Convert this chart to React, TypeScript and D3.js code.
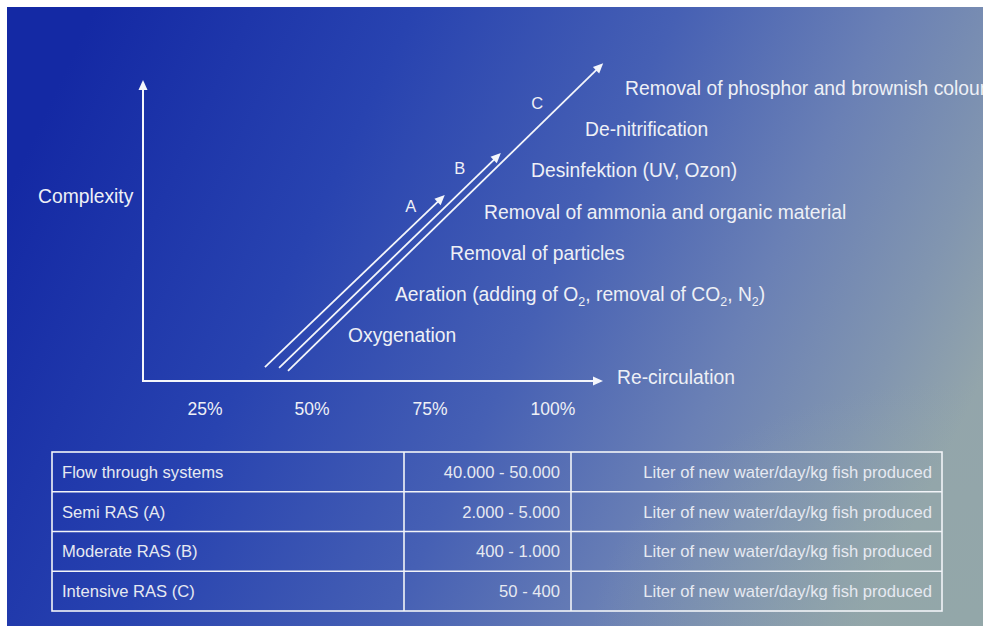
import React from "react";
import * as d3 from "d3";

// ---- data ----
const tickValues = [25, 50, 75, 100];
const tickLabels = ["25%", "50%", "75%", "100%"];
const axisXLabel = "Re-circulation";
const axisYLabel = "Complexity";

// treatment steps, ordered by complexity level (0 = lowest)
const steps: { t: string; sub?: boolean }[][] = [
  [{ t: "Oxygenation" }],
  [
    { t: "Aeration (adding of O" },
    { t: "2", sub: true },
    { t: ", removal of CO" },
    { t: "2", sub: true },
    { t: ", N" },
    { t: "2", sub: true },
    { t: ")" },
  ],
  [{ t: "Removal of particles" }],
  [{ t: "Removal of ammonia and organic material" }],
  [{ t: "Desinfektion (UV, Ozon)" }],
  [{ t: "De-nitrification" }],
  [{ t: "Removal of phosphor and brownish colour" }],
];
const stepLevels = [0, 1, 2, 3, 4, 5, 6];

// system arrows: start / end as [re-circulation %, complexity level]
const arrowNames = ["A", "B", "C"];
const arrowStart = [
  [39.0, -0.78],
  [42.3, -0.8],
  [44.4, -0.87],
];
const arrowEnd = [
  [78.0, 3.4],
  [89.4, 4.42],
  [110.2, 6.6],
];

// table
const systems = ["Flow through systems", "Semi RAS (A)", "Moderate RAS (B)", "Intensive RAS (C)"];
const ranges = ["40.000 - 50.000", "2.000 - 5.000", "400 - 1.000", "50 - 400"];
const units = [
  "Liter of new water/day/kg fish produced",
  "Liter of new water/day/kg fish produced",
  "Liter of new water/day/kg fish produced",
  "Liter of new water/day/kg fish produced",
];

// ---- layout ----
const W = 983;
const H = 626;
const origin = { x: 143, y: 381 };
const yTop = 80;
const xEnd = 603;
const tickPx = [205, 312, 430, 553];
const stepLabelX = [348, 395, 450, 484, 531, 585, 625];
const letterOffset = [
  [-34, 17],
  [-41, 21],
  [-66, 46],
];
const table = { x0: 52, x1: 942, y0: 452, rowH: 39.75, c1: 404, c2: 571 };
const textColor = "#eef0f6";
const font = "'Liberation Sans', Arial, sans-serif";

export default function App() {
  const x = d3.scaleLinear().domain(tickValues).range(tickPx);
  const y = d3.scaleLinear().domain([0, 6]).range([335, 88]);

  const arrowHead = (x1: number, y1: number, x2: number, y2: number, len = 10, wid = 4.5) => {
    const a = Math.atan2(y2 - y1, x2 - x1);
    const bx = x2 - len * Math.cos(a);
    const by = y2 - len * Math.sin(a);
    const px = -Math.sin(a) * wid;
    const py = Math.cos(a) * wid;
    return `${x2},${y2} ${bx + px},${by + py} ${bx - px},${by - py}`;
  };

  const line = d3.line<number[]>().x((d) => d[0]).y((d) => d[1]);

  return (
    <svg
      width={W}
      height={H}
      style={{ position: "absolute", left: 0, top: 0, display: "block" }}
      fontFamily={font}
    >
      <defs>
        <linearGradient id="bg" x1="0" y1="0.3" x2="1" y2="0.6">
          <stop offset="0" stopColor="#1429a4" />
          <stop offset="0.3" stopColor="#2843b0" />
          <stop offset="0.55" stopColor="#4660b4" />
          <stop offset="0.75" stopColor="#6a80b5" />
          <stop offset="0.9" stopColor="#8195b0" />
          <stop offset="1" stopColor="#93a5ab" />
        </linearGradient>
        <radialGradient id="br" cx="1" cy="1" r="0.4">
          <stop offset="0" stopColor="#93a8a8" stopOpacity="0.7" />
          <stop offset="1" stopColor="#93a8a8" stopOpacity="0" />
        </radialGradient>
      </defs>
      <rect x={0} y={0} width={W} height={H} fill="#ffffff" />
      <rect x={7} y={7} width={W - 7} height={H - 7} fill="url(#bg)" />
      <rect x={7} y={7} width={W - 7} height={H - 7} fill="url(#br)" />

      {/* axes */}
      <g stroke="#f4f6fb" strokeWidth={2} fill="none">
        <path d={line([[origin.x, yTop + 8], [origin.x, origin.y], [xEnd - 8, origin.y]]) || ""} />
      </g>
      <polygon points={arrowHead(origin.x, origin.y, origin.x, yTop)} fill="#f4f6fb" />
      <polygon points={arrowHead(origin.x, origin.y, xEnd, origin.y)} fill="#f4f6fb" />

      <text x={38} y={203} fontSize={19.3} fill={textColor}>
        {axisYLabel}
      </text>
      <text x={617} y={384} fontSize={19.3} fill={textColor}>
        {axisXLabel}
      </text>

      {tickValues.map((v, i) => (
        <text key={v} x={x(v)} y={415} fontSize={17.5} fill={textColor} textAnchor="middle">
          {tickLabels[i]}
        </text>
      ))}

      {/* system arrows */}
      {arrowNames.map((n, i) => {
        const x1 = x(arrowStart[i][0]);
        const y1 = y(arrowStart[i][1]);
        const x2 = x(arrowEnd[i][0]);
        const y2 = y(arrowEnd[i][1]);
        const a = Math.atan2(y2 - y1, x2 - x1);
        return (
          <g key={n}>
            <line
              x1={x1}
              y1={y1}
              x2={x2 - 8 * Math.cos(a)}
              y2={y2 - 8 * Math.sin(a)}
              stroke="#f4f6fb"
              strokeWidth={1.8}
            />
            <polygon points={arrowHead(x1, y1, x2, y2)} fill="#f4f6fb" />
            <text
              x={x2 + letterOffset[i][0]}
              y={y2 + letterOffset[i][1]}
              fontSize={16.5}
              fill={textColor}
              textAnchor="middle"
            >
              {n}
            </text>
          </g>
        );
      })}

      {/* step labels */}
      {steps.map((segs, i) => (
        <text key={i} x={stepLabelX[i]} y={y(stepLevels[i]) + 7} fontSize={19.3} fill={textColor}>
          {segs.map((s, j) =>
            s.sub ? (
              <tspan key={j} fontSize={12.5} dy={5}>
                {s.t}
              </tspan>
            ) : (
              <tspan key={j} dy={j > 0 && segs[j - 1].sub ? -5 : 0}>
                {s.t}
              </tspan>
            )
          )}
        </text>
      ))}

      {/* table */}
      <g stroke="#f2f4f8" strokeWidth={1.6} fill="none">
        <rect
          x={table.x0}
          y={table.y0}
          width={table.x1 - table.x0}
          height={table.rowH * systems.length}
        />
        {systems.slice(1).map((_, i) => (
          <line
            key={i}
            x1={table.x0}
            x2={table.x1}
            y1={table.y0 + table.rowH * (i + 1)}
            y2={table.y0 + table.rowH * (i + 1)}
          />
        ))}
        <line x1={table.c1} x2={table.c1} y1={table.y0} y2={table.y0 + table.rowH * systems.length} />
        <line x1={table.c2} x2={table.c2} y1={table.y0} y2={table.y0 + table.rowH * systems.length} />
      </g>
      {systems.map((s, i) => {
        const cy = table.y0 + table.rowH * (i + 0.5) + 6;
        return (
          <g key={s} fontSize={16.6} fill="#e6e9f1">
            <text x={table.x0 + 10} y={cy}>
              {s}
            </text>
            <text x={table.c2 - 11} y={cy} textAnchor="end">
              {ranges[i]}
            </text>
            <text x={table.x1 - 10} y={cy} textAnchor="end">
              {units[i]}
            </text>
          </g>
        );
      })}
    </svg>
  );
}
